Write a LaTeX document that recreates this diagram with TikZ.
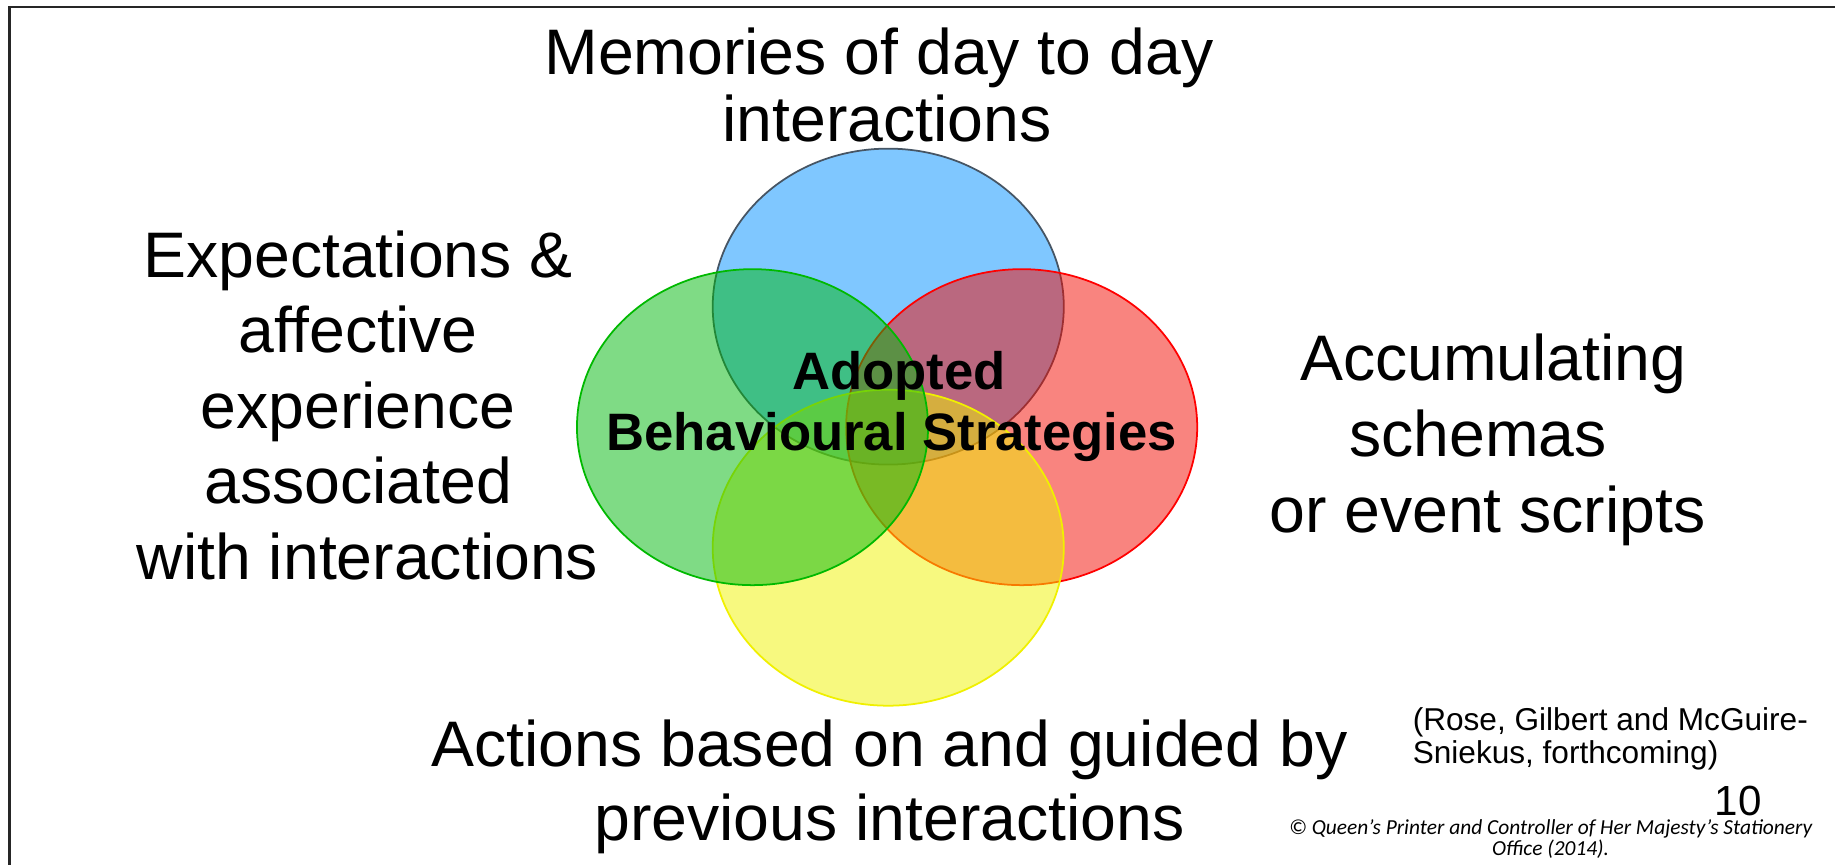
\documentclass[tikz,border=0pt]{standalone}
\usepackage{fontspec}
\setmainfont{Liberation Sans}
\newfontfamily\calib{Carlito}
\definecolor{cblue}{RGB}{0,145,255}
\definecolor{cgreen}{RGB}{0,185,13}
\definecolor{cred}{RGB}{245,11,1}
\definecolor{cyellow}{RGB}{241,245,1}
\definecolor{sblue}{RGB}{70,85,100}
\definecolor{sgreen}{RGB}{0,185,0}
\definecolor{sred}{RGB}{255,0,0}
\definecolor{syellow}{RGB}{240,240,0}
\tikzset{
  big/.style={font=\fontsize{55}{57}\selectfont, inner sep=0pt, anchor=base},
  ctr/.style={font=\fontsize{45}{50}\bfseries\selectfont, inner sep=0pt, anchor=base},
  cite/.style={font=\fontsize{27}{30}\selectfont, inner sep=0pt, anchor=base west},
  copy/.style={font=\fontsize{18.3}{21}\calib\itshape\selectfont, inner sep=0pt, anchor=base},
  venn/.style={fill opacity=0.5, line width=1.5pt}
}
\begin{document}
\begin{tikzpicture}[x=1pt,y=-1pt]
\useasboundingbox (0,0) rectangle (1568,739);
\fill[white] (0,0) rectangle (1568,739);
% frame
\draw[line width=2pt, black!85] (8,760) -- (8,6) -- (1590,6);
% circles
\draw[venn, fill=cblue, draw=sblue] (759,262) ellipse [x radius=150, y radius=135];
\draw[venn, fill=cred, draw=sred] (873,365) ellipse [x radius=150, y radius=135];
\draw[venn, fill=cyellow, draw=syellow] (759,468) ellipse [x radius=150, y radius=135];
\draw[venn, fill=cgreen, draw=sgreen] (643,365) ellipse [x radius=150, y radius=135];
% top
\node[big] (m1) at (751,64) {Memories of day to day};
\node[big] (m2) at (758,121) {interactions};
% left
\node[big] (l1) at (306,237) {Expectations \&};
\node[big] (l2) at (306,301.5) {affective};
\node[big] (l3) at (306,366) {experience};
\node[big] (l4) at (306,430.5) {associated};
\node[big] (l5) at (314,495) {with interactions};
% right
\node[big] (r1) at (1276,325) {Accumulating};
\node[big] (r2) at (1263,390) {schemas};
\node[big] (r3) at (1271,455) {or event scripts};
% bottom
\node[big] (b1) at (760,655) {Actions based on and guided by};
\node[big] (b2) at (760,718) {previous interactions};
% centre
\node[ctr] (c1) at (768,333) {Adopted};
\node[ctr] (c2) at (762,385) {Behavioural Strategies};
% citation
\node[cite] (ct1) at (1207,624) {(Rose, Gilbert and McGuire-};
\node[cite] (ct2) at (1207,652) {Sniekus, forthcoming)};
\node[font=\fontsize{36}{40}\selectfont, inner sep=0pt, anchor=base west] (pg) at (1465,697) {10};
\node[copy] (cp1) at (1325,713) {© Queen’s Printer and Controller of Her Majesty’s Stationery};
\node[copy] (cp2) at (1325,731) {Office (2014).};
\end{tikzpicture}
\end{document}
